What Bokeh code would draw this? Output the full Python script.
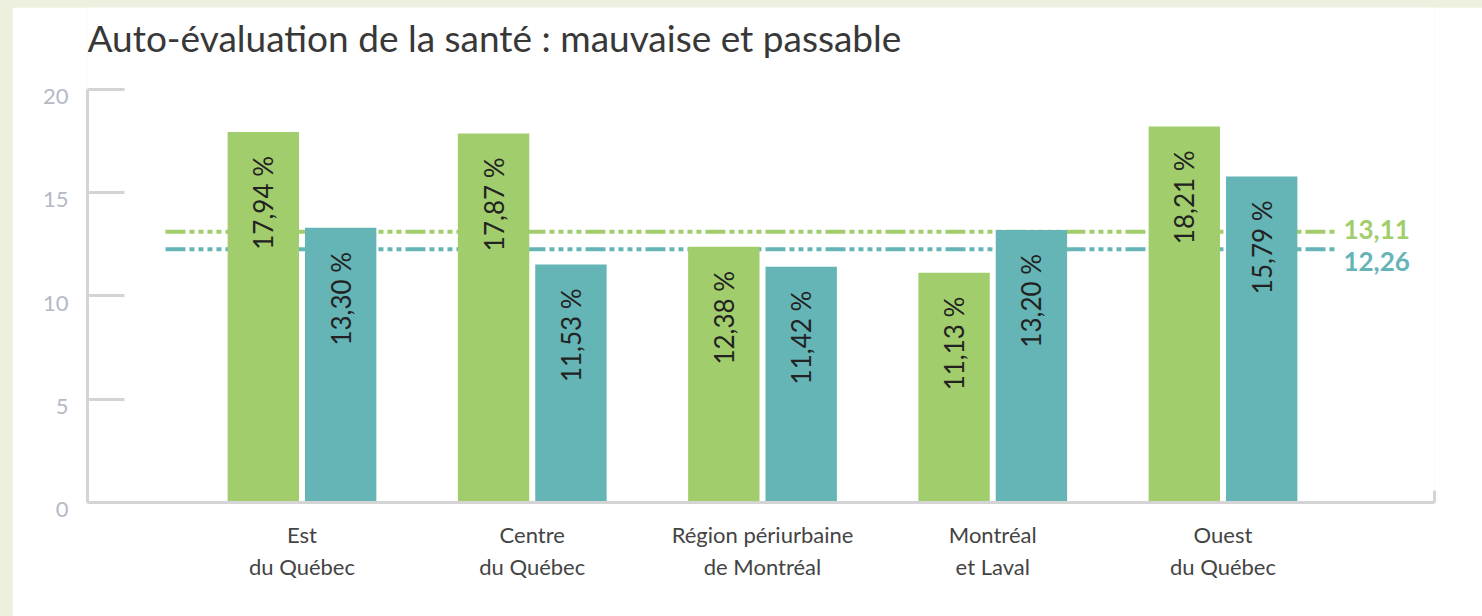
from bokeh.plotting import figure
from bokeh.models import (ColumnDataSource, Range1d, FixedTicker, LinearAxis, Label)
from bokeh.core.properties import value
from bokeh.embed import file_html
from bokeh.resources import INLINE

# ---- data ----
categories = ["Est\ndu Québec", "Centre\ndu Québec", "Région périurbaine\nde Montréal",
              "Montréal\net Laval", "Ouest\ndu Québec"]
serie_verte = [17.94, 17.87, 12.38, 11.13, 18.21]
serie_bleue = [13.30, 11.53, 11.42, 13.20, 15.79]
moyenne_verte = 13.11
moyenne_bleue = 12.26
y_ticks = [0, 5, 10, 15, 20]
title_text = "Auto-évaluation de la santé : mauvaise et passable"

def fmt(v, pct=True):
    s = f"{v:.2f}".replace(".", ",")
    return s + " %" if pct else s

GREEN = "#a1cd6c"
TEAL = "#65b5b6"
AXIS = "#d4d4d4"
FONT = "Lato"

idx = list(range(len(categories)))
off = 0.168
bw = 0.31
X_START, X_END = -0.9316, 4.9186
AXIS_MAX = 20
# the plot area extends above the axis top to leave room for the title
Y_START, Y_END = 0, 23.97

src_g = ColumnDataSource(dict(x=[i - off for i in idx], top=serie_verte,
                              lab=[fmt(v) for v in serie_verte]))
src_b = ColumnDataSource(dict(x=[i + off for i in idx], top=serie_bleue,
                              lab=[fmt(v) for v in serie_bleue]))

p = figure(width=1470, height=609, output_backend="svg", toolbar_location=None,
           x_range=Range1d(X_START, X_END), y_range=Range1d(Y_START, Y_END),
           min_border_left=75, min_border_right=48, min_border_top=0,
           min_border_bottom=114)
p.outline_line_color = None
p.grid.visible = False
p.background_fill_color = "white"
p.border_fill_color = "white"

# title
p.add_layout(Label(x=X_START, y=AXIS_MAX, x_offset=0, y_offset=52, text=title_text,
                   text_font=FONT, text_font_size="37px", text_color="#383838",
                   text_align="left", text_baseline="alphabetic"))

# reference (average) lines, behind bars
x0, x1 = -0.593, 4.489
p.line([x0, x1], [moyenne_verte, moyenne_verte], line_color=GREEN, line_width=4,
       line_dash="20 4 5 4 5 4 5 4 5 4")
p.line([x0, x1], [moyenne_bleue, moyenne_bleue], line_color=TEAL, line_width=4,
       line_dash="20 4 5 4 5 4 5 4 5 4")

p.vbar(x="x", top="top", width=bw, bottom=0, source=src_g, fill_color=GREEN, line_color=None)
p.vbar(x="x", top="top", width=bw, bottom=0, source=src_b, fill_color=TEAL, line_color=None)

for s in (src_g, src_b):
    p.text(x="x", y="top", text="lab", source=s, angle=1.5708, text_align="right",
           text_baseline="middle", y_offset=24, text_font=value(FONT),
           text_font_size="26px", text_color="#222222")

# labels of the average lines
p.text(x=[4.523], y=[moyenne_verte], text=[fmt(moyenne_verte, False)], text_align="left",
       text_baseline="middle", y_offset=-2, text_font=value(FONT), text_font_size="26px",
       text_font_style="bold", text_color=GREEN)
p.text(x=[4.523], y=[moyenne_bleue], text=[fmt(moyenne_bleue, False)], text_align="left",
       text_baseline="middle", y_offset=12, text_font=value(FONT), text_font_size="26px",
       text_font_style="bold", text_color=TEAL)

# y axis
ya = p.yaxis[0]
ya.ticker = FixedTicker(ticks=y_ticks)
ya.bounds = (0, AXIS_MAX)
ya.major_label_overrides = {t: "\n" + str(t) for t in y_ticks}
ya.major_label_text_line_height = 0.45
ya.axis_line_color = AXIS
ya.axis_line_width = 3
ya.major_tick_line_color = AXIS
ya.major_tick_line_width = 3
ya.major_tick_in = 37
ya.major_tick_out = 0
ya.minor_tick_line_color = None
ya.major_label_text_font = FONT
ya.major_label_text_font_size = "22px"
ya.major_label_text_color = "#b4b9c6"
ya.major_label_standoff = 19

# x axis
xa = p.xaxis[0]
xa.ticker = FixedTicker(ticks=idx)
xa.major_label_overrides = {i: c for i, c in zip(idx, categories)}
xa.axis_line_color = AXIS
xa.axis_line_width = 3
xa.major_tick_line_color = None
xa.minor_tick_line_color = None
xa.major_label_text_font = FONT
xa.major_label_text_font_size = "22px"
xa.major_label_text_color = "#444444"
xa.major_label_text_line_height = 1.2
xa.major_label_standoff = 12

# small end mark at the right end of the baseline
ra = LinearAxis(bounds=(0, 0.6), ticker=FixedTicker(ticks=[]))
ra.axis_line_color = AXIS
ra.axis_line_width = 3
ra.major_tick_line_color = None
ra.minor_tick_line_color = None
ra.major_label_text_font_size = "0px"
p.add_layout(ra, "right")

html = file_html(p, INLINE, title="Auto-évaluation de la santé")
css = ("<style>html, body { background-color: #edf0df !important; }"
       " body { padding: 7px 0 0 12px !important; }</style>")
html = html.replace("</head>", css + "</head>", 1)
open("out.html", "w").write(html)
